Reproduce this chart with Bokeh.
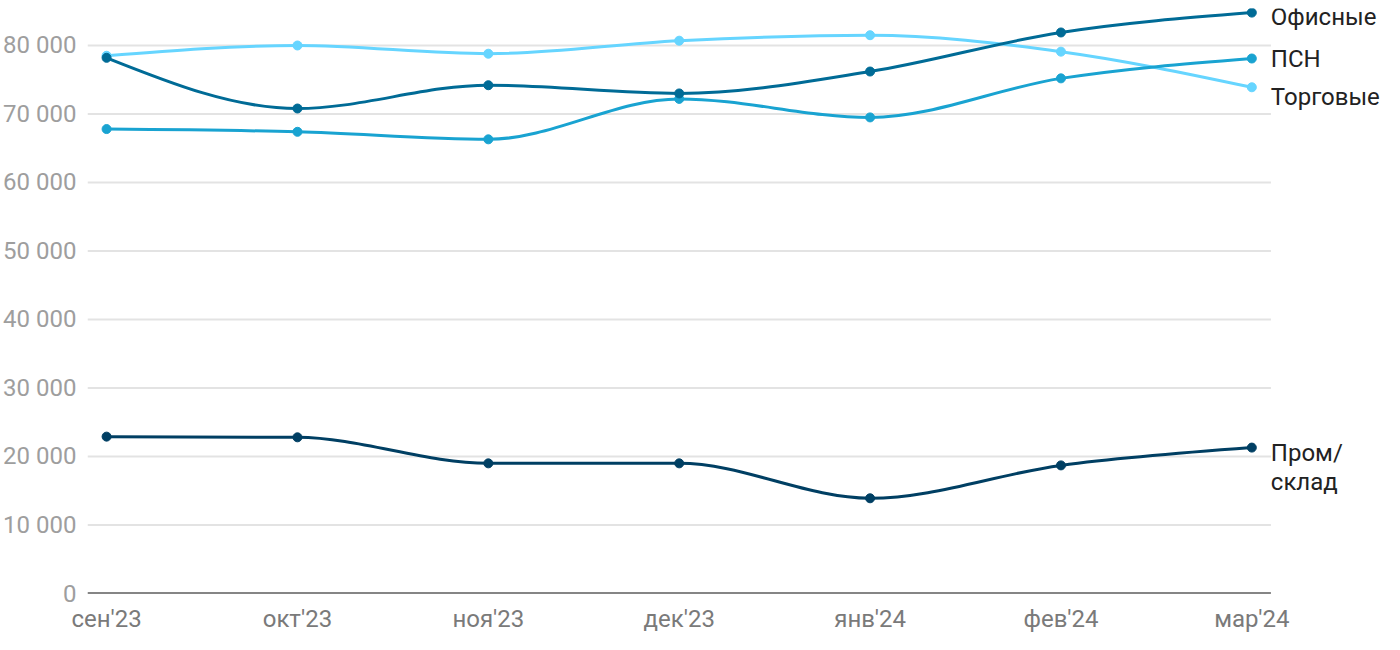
from bokeh.plotting import figure
from bokeh.models import Range1d, Label, FixedTicker
from bokeh.embed import file_html
from bokeh.resources import INLINE

months = ["сен'23", "окт'23", "ноя'23", "дек'23", "янв'24", "фев'24", "мар'24"]
series_names = ["Офисные", "ПСН", "Торговые", "Пром/склад"]
ofisnye = [78200, 70800, 74200, 73000, 76200, 81900, 84800]
psn = [67800, 67400, 66300, 72200, 69500, 75200, 78100]
torgovye = [78500, 80000, 78800, 80700, 81500, 79100, 73900]
prom = [22900, 22800, 19000, 19000, 13900, 18700, 21300]
y_ticks = [0, 10000, 20000, 30000, 40000, 50000, 60000, 70000, 80000]

colors = ["#006b96", "#19a3d1", "#66d5ff", "#003f63"]
label_lines = [["Офисные"], ["ПСН"], ["Торговые"], ["Пром/", "склад"]]
label_dy = [-4, 0, -10, -5]

FONT = "Roboto"
PAD = 0.1


def monotone_bezier(xs, ys):
    n = len(xs)
    h = [xs[i + 1] - xs[i] for i in range(n - 1)]
    s = [(ys[i + 1] - ys[i]) / h[i] for i in range(n - 1)]
    t = [0.0] * n
    for i in range(1, n - 1):
        s0, s1 = s[i - 1], s[i]
        p = (s0 * h[i] + s1 * h[i - 1]) / (h[i - 1] + h[i])
        sg = (1 if s0 > 0 else -1 if s0 < 0 else 0) + (1 if s1 > 0 else -1 if s1 < 0 else 0)
        t[i] = sg * min(abs(s0), abs(s1), 0.5 * abs(p))
    t[0] = (3 * s[0] - t[1]) / 2 if n > 2 else s[0]
    t[-1] = (3 * s[-1] - t[-2]) / 2 if n > 2 else s[-1]
    seg = dict(x0=[], y0=[], x1=[], y1=[], cx0=[], cy0=[], cx1=[], cy1=[])
    for i in range(n - 1):
        d = h[i] / 3
        seg["x0"].append(xs[i]); seg["y0"].append(ys[i])
        seg["x1"].append(xs[i + 1]); seg["y1"].append(ys[i + 1])
        seg["cx0"].append(xs[i] + d); seg["cy0"].append(ys[i] + d * t[i])
        seg["cx1"].append(xs[i + 1] - d); seg["cy1"].append(ys[i + 1] - d * t[i + 1])
    return seg


xs = list(range(len(months)))
x_lo, x_hi = xs[0] - PAD, xs[-1] + PAD

p = figure(width=1392, height=642, output_backend="svg", toolbar_location=None,
           x_range=Range1d(x_lo, 6.737), y_range=Range1d(0, 85400),
           min_border_left=84, min_border_right=0, min_border_top=8, min_border_bottom=49)
p.outline_line_color = None
p.background_fill_color = "white"
p.border_fill_color = "white"

p.xgrid.grid_line_color = None
p.ygrid.grid_line_color = None

# horizontal grid lines limited to the data area
p.segment(x0=[x_lo] * len(y_ticks), x1=[x_hi] * len(y_ticks), y0=y_ticks, y1=y_ticks,
          line_color="#e3e3e3", line_width=2)
# baseline
p.segment(x0=[x_lo], x1=[x_hi], y0=[0], y1=[0], line_color="#1a1a1a", line_width=2)

p.yaxis.ticker = FixedTicker(ticks=y_ticks)
p.yaxis.major_label_overrides = {v: f"{v:,}".replace(",", " ") for v in y_ticks}
p.yaxis.axis_line_color = None
p.yaxis.major_tick_line_color = None
p.yaxis.minor_tick_line_color = None
p.yaxis.major_tick_out = 0
p.yaxis.major_label_standoff = 11
p.yaxis.major_label_text_font = FONT
p.yaxis.major_label_text_font_size = "24px"
p.yaxis.major_label_text_color = "#9e9e9e"

p.xaxis.ticker = FixedTicker(ticks=xs)
p.xaxis.major_label_overrides = {i: m for i, m in enumerate(months)}
p.xaxis.axis_line_color = None
p.xaxis.major_tick_line_color = None
p.xaxis.minor_tick_line_color = None
p.xaxis.major_tick_out = 0
p.xaxis.major_label_standoff = 11
p.xaxis.major_label_text_font = FONT
p.xaxis.major_label_text_font_size = "24px"
p.xaxis.major_label_text_color = "#7a7a7a"

all_series = [ofisnye, psn, torgovye, prom]
for vals, col in zip(all_series[::-1], colors[::-1]):
    seg = monotone_bezier(xs, vals)
    p.bezier(x0=seg["x0"], y0=seg["y0"], x1=seg["x1"], y1=seg["y1"],
             cx0=seg["cx0"], cy0=seg["cy0"], cx1=seg["cx1"], cy1=seg["cy1"],
             line_color=col, line_width=3)
    p.scatter(xs, vals, size=9, fill_color=col, line_color=col)

for vals, lines, dy in zip(all_series, label_lines, label_dy):
    for k, line in enumerate(lines):
        p.add_layout(Label(x=xs[-1], y=vals[-1], x_offset=19, y_offset=dy - k * 29,
                           text=line, text_font=FONT, text_font_size="24px",
                           text_color="#222222", text_baseline="middle", text_align="left"))

open("out.html", "w").write(file_html(p, INLINE))
